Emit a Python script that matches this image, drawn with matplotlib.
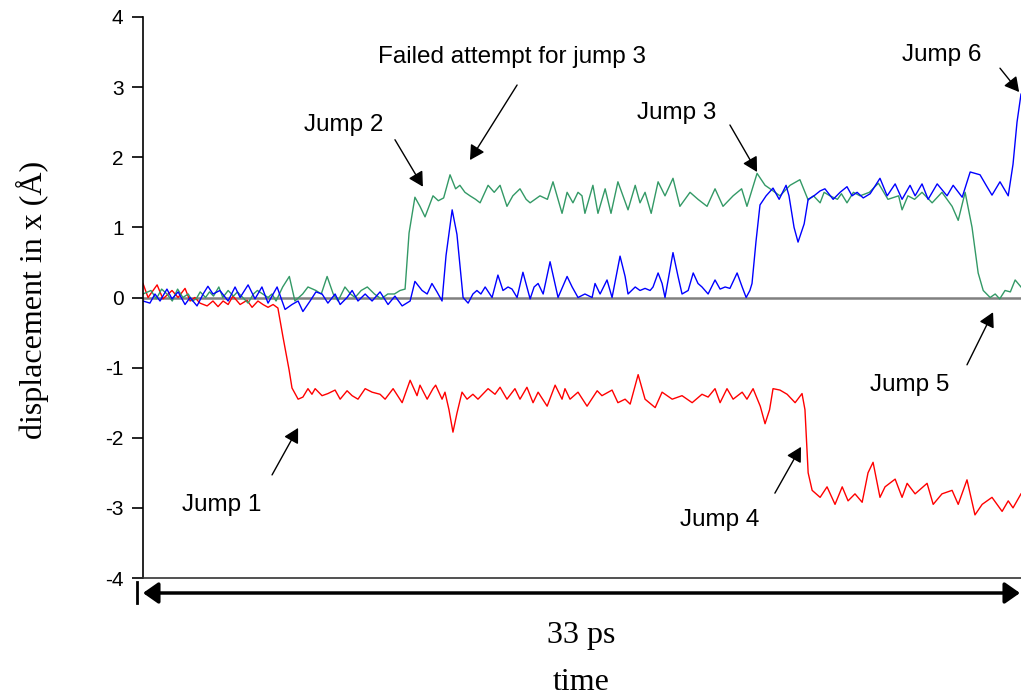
import matplotlib
matplotlib.use("Agg")
import matplotlib.pyplot as plt
import numpy as np

plt.rcParams["axes.unicode_minus"] = False

# x-displacement (Å) of the three tracked atoms against time (ps)
red_pts = [
    (0.0, 0.2), (0.19, 0.0), (0.53, 0.18), (0.75, -0.02), (1.09, 0.1), (1.32, 0.0),
    (1.58, 0.13), (1.77, -0.05), (1.95, 0.0), (2.14, -0.08), (2.41, -0.12), (2.63, -0.05),
    (2.82, -0.13), (3.01, -0.05), (3.20, -0.1), (3.38, 0.02), (3.65, -0.1), (3.91, -0.04),
    (4.10, -0.14), (4.32, -0.05), (4.51, -0.1), (4.70, -0.14), (4.89, -0.1), (5.07, -0.15),
    (5.26, -0.56), (5.49, -1.03), (5.60, -1.29), (5.83, -1.45), (6.01, -1.42), (6.20, -1.3),
    (6.35, -1.38), (6.47, -1.3), (6.73, -1.4), (6.95, -1.37), (7.22, -1.32), (7.41, -1.45),
    (7.67, -1.33), (7.86, -1.4), (8.08, -1.45), (8.35, -1.3), (8.61, -1.35), (8.91, -1.38),
    (9.10, -1.45), (9.40, -1.3), (9.74, -1.5), (10.04, -1.18), (10.30, -1.4), (10.41, -1.25),
    (10.68, -1.45), (10.90, -1.3), (11.0, -1.25), (11.24, -1.45), (11.35, -1.35), (11.5, -1.6),
    (11.65, -1.92), (11.8, -1.65), (11.99, -1.35), (12.18, -1.45), (12.40, -1.38), (12.59, -1.45),
    (12.97, -1.3), (13.23, -1.38), (13.42, -1.28), (13.68, -1.45), (13.98, -1.3), (14.17, -1.45),
    (14.43, -1.28), (14.66, -1.5), (14.85, -1.35), (15.19, -1.55), (15.49, -1.25), (15.75, -1.45),
    (15.86, -1.3), (16.05, -1.45), (16.35, -1.35), (16.69, -1.55), (17.07, -1.33), (17.25, -1.4),
    (17.63, -1.32), (17.85, -1.5), (18.12, -1.45), (18.31, -1.52), (18.61, -1.1), (18.87, -1.45),
    (19.25, -1.57), (19.51, -1.35), (19.89, -1.45), (20.26, -1.4), (20.64, -1.5), (21.01, -1.38),
    (21.24, -1.42), (21.50, -1.3), (21.69, -1.5), (21.95, -1.3), (22.18, -1.45), (22.52, -1.35),
    (22.70, -1.45), (22.93, -1.3), (23.2, -1.55), (23.38, -1.8), (23.55, -1.6), (23.68, -1.3),
    (23.94, -1.32), (24.21, -1.38), (24.51, -1.5), (24.77, -1.37), (24.88, -1.6), (25.0, -2.5),
    (25.15, -2.75), (25.45, -2.85), (25.71, -2.7), (26.01, -2.95), (26.28, -2.7), (26.50, -2.9),
    (26.76, -2.8), (27.03, -2.92), (27.25, -2.5), (27.44, -2.35), (27.70, -2.85), (27.89, -2.7),
    (28.27, -2.59), (28.53, -2.85), (28.72, -2.65), (29.02, -2.8), (29.47, -2.65), (29.70, -2.95),
    (30.03, -2.8), (30.41, -2.75), (30.64, -2.95), (30.97, -2.6), (31.27, -3.1), (31.54, -2.95),
    (31.91, -2.85), (32.29, -3.05), (32.52, -2.9), (32.70, -3.0), (33.0, -2.8),
]

blue_pts = [
    (0.0, -0.05), (0.26, -0.08), (0.45, 0.05), (0.64, -0.05), (0.9, 0.12), (1.09, -0.02),
    (1.32, 0.08), (1.58, -0.1), (1.77, 0.0), (2.03, -0.12), (2.26, 0.05), (2.44, 0.16),
    (2.63, 0.05), (2.89, 0.1), (3.20, -0.05), (3.46, 0.15), (3.65, 0.0), (3.95, 0.18),
    (4.21, -0.02), (4.47, 0.15), (4.70, -0.08), (5.04, 0.15), (5.34, -0.17), (5.60, -0.1),
    (5.83, -0.05), (6.01, -0.2), (6.28, -0.05), (6.50, 0.08), (6.73, 0.05), (6.95, -0.08),
    (7.22, 0.05), (7.41, -0.1), (7.67, 0.0), (7.86, 0.1), (8.08, -0.05), (8.35, 0.05),
    (8.61, -0.05), (8.91, 0.08), (9.21, -0.1), (9.47, 0.02), (9.74, -0.12), (10.04, -0.05),
    (10.22, 0.23), (10.49, 0.1), (10.68, 0.05), (10.86, 0.2), (11.05, 0.08), (11.24, -0.05),
    (11.39, 0.6), (11.62, 1.25), (11.8, 0.9), (12.03, 0.0), (12.22, -0.08), (12.40, 0.05),
    (12.55, 0.1), (12.7, 0.05), (12.86, 0.15), (13.12, 0.0), (13.34, 0.32), (13.53, 0.1),
    (13.72, 0.15), (13.87, 0.12), (14.06, 0.0), (14.28, 0.36), (14.55, -0.02), (14.70, 0.15),
    (14.85, 0.2), (15.04, 0.05), (15.30, 0.51), (15.60, 0.0), (15.94, 0.3), (16.13, 0.15),
    (16.35, 0.0), (16.61, 0.05), (16.88, 0.0), (16.99, 0.2), (17.18, 0.05), (17.44, 0.25),
    (17.63, 0.0), (17.93, 0.59), (18.12, 0.3), (18.23, 0.05), (18.5, 0.15), (18.68, 0.1),
    (18.87, 0.13), (19.06, 0.1), (19.17, 0.15), (19.36, 0.35), (19.51, 0.2), (19.62, 0.0),
    (19.92, 0.64), (20.11, 0.3), (20.26, 0.05), (20.49, 0.1), (20.68, 0.35), (20.86, 0.2),
    (21.01, 0.15), (21.24, 0.05), (21.5, 0.25), (21.69, 0.12), (21.88, 0.15), (22.06, 0.13),
    (22.33, 0.35), (22.52, 0.15), (22.67, 0.0), (22.81, 0.1), (22.89, 0.2), (23.04, 0.8),
    (23.19, 1.32), (23.42, 1.45), (23.68, 1.56), (23.91, 1.4), (24.17, 1.6), (24.28, 1.45),
    (24.47, 1.0), (24.62, 0.79), (24.85, 1.05), (25.0, 1.4), (25.22, 1.45), (25.45, 1.52),
    (25.63, 1.55), (25.94, 1.4), (26.2, 1.5), (26.46, 1.58), (26.65, 1.45), (26.84, 1.5),
    (27.07, 1.42), (27.33, 1.48), (27.70, 1.7), (27.97, 1.45), (28.27, 1.62), (28.53, 1.4),
    (28.83, 1.6), (29.02, 1.45), (29.28, 1.62), (29.51, 1.4), (29.85, 1.62), (30.22, 1.45),
    (30.45, 1.6), (30.79, 1.43), (31.09, 1.79), (31.46, 1.75), (31.69, 1.6), (31.91, 1.46),
    (32.21, 1.65), (32.52, 1.45), (32.70, 1.9), (32.85, 2.5), (33.0, 2.9),
]

green_pts = [
    (0.0, 0.05), (0.3, 0.1), (0.5, -0.02), (0.7, 0.12), (0.9, 0.05), (1.1, -0.05),
    (1.3, 0.12), (1.5, 0.0), (1.7, 0.05), (1.85, -0.05), (2.0, -0.02), (2.15, 0.08),
    (2.35, 0.0), (2.5, 0.08), (2.65, 0.02), (2.85, 0.15), (3.0, 0.0), (3.2, 0.1),
    (3.4, 0.02), (3.55, 0.08), (3.75, 0.0), (3.95, -0.08), (4.15, 0.05), (4.3, 0.1),
    (4.5, 0.05), (4.7, 0.0), (4.85, 0.05), (5.0, -0.05), (5.25, 0.15), (5.5, 0.3),
    (5.71, -0.05), (6.0, 0.05), (6.2, 0.15), (6.5, 0.1), (6.7, 0.05), (6.92, 0.3),
    (7.15, 0.05), (7.33, -0.05), (7.59, 0.15), (7.8, 0.05), (7.97, 0.0), (8.2, 0.1),
    (8.43, 0.15), (8.7, 0.05), (8.95, -0.02), (9.2, 0.05), (9.45, 0.05), (9.66, 0.1),
    (9.85, 0.12), (10.0, 0.92), (10.22, 1.43), (10.41, 1.3), (10.6, 1.15), (10.9, 1.45),
    (11.1, 1.38), (11.3, 1.42), (11.54, 1.75), (11.75, 1.55), (11.91, 1.6), (12.1, 1.5),
    (12.29, 1.45), (12.5, 1.4), (12.67, 1.35), (12.97, 1.6), (13.2, 1.5), (13.42, 1.6),
    (13.68, 1.3), (13.9, 1.45), (14.17, 1.55), (14.4, 1.4), (14.55, 1.35), (14.92, 1.45),
    (15.2, 1.4), (15.41, 1.65), (15.75, 1.2), (15.94, 1.5), (16.16, 1.35), (16.35, 1.5),
    (16.5, 1.45), (16.61, 1.2), (16.91, 1.6), (17.1, 1.2), (17.37, 1.55), (17.59, 1.2),
    (17.85, 1.65), (18.23, 1.25), (18.5, 1.6), (18.68, 1.35), (18.87, 1.5), (19.1, 1.2),
    (19.36, 1.65), (19.62, 1.45), (19.92, 1.7), (20.18, 1.3), (20.56, 1.5), (20.86, 1.4),
    (21.2, 1.3), (21.5, 1.55), (21.8, 1.3), (22.18, 1.45), (22.5, 1.55), (22.7, 1.3),
    (23.08, 1.77), (23.38, 1.6), (23.57, 1.55), (23.94, 1.45), (24.32, 1.6), (24.69, 1.68),
    (25.0, 1.39), (25.2, 1.45), (25.45, 1.35), (25.6, 1.5), (25.82, 1.45), (26.1, 1.4),
    (26.25, 1.48), (26.46, 1.35), (26.7, 1.5), (26.95, 1.45), (27.3, 1.5), (27.64, 1.63),
    (28.0, 1.4), (28.4, 1.45), (28.53, 1.25), (28.75, 1.45), (29.0, 1.4), (29.28, 1.5),
    (29.66, 1.35), (30.03, 1.5), (30.41, 1.3), (30.64, 1.1), (30.9, 1.5), (31.16, 1.0),
    (31.39, 0.35), (31.58, 0.1), (31.84, 0.0), (32.03, 0.05), (32.2, -0.02), (32.4, 0.1),
    (32.6, 0.08), (32.78, 0.25), (33.0, 0.15),
]

# (label, text position, arrow tail, arrow tip) in data units
notes = [
    ("Failed attempt for jump 3", (13.87, 3.43), (14.06, 3.03), (12.29, 1.96)),
    ("Jump 2", (7.55, 2.46), (9.47, 2.25), (10.52, 1.58)),
    ("Jump 3", (20.07, 2.63), (22.06, 2.46), (23.08, 1.79)),
    ("Jump 6", (30.03, 3.46), (32.21, 3.27), (32.93, 2.93)),
    ("Jump 5", (28.83, -1.25), (30.97, -0.96), (31.95, -0.21)),
    ("Jump 1", (2.97, -2.96), (4.85, -2.53), (5.83, -1.86)),
    ("Jump 4", (21.69, -3.17), (23.75, -2.79), (24.73, -2.13)),
]

SANS = "Liberation Sans"
SERIF = "Liberation Serif"

fig = plt.figure(figsize=(10.21, 7), dpi=100)
ax = fig.add_axes([143 / 1021, 1 - 578 / 700, 878 / 1021, 561 / 700])

ax.axhline(0, color="#808080", lw=1.8, zorder=1)
for pts, col in [(red_pts, "#ff0000"), (green_pts, "#339966"), (blue_pts, "#0000ff")]:
    arr = np.array(pts)
    ax.plot(arr[:, 0], arr[:, 1], color=col, lw=1.0, zorder=2)

ax.set_xlim(0, 33)
ax.set_ylim(-4, 4)
ax.set_yticks(range(-4, 5))
ax.set_xticks([])
for side in ("top", "right"):
    ax.spines[side].set_visible(False)
ax.spines["left"].set_linewidth(1.2)
ax.spines["bottom"].set_linewidth(1.2)
ax.spines["bottom"].set_color("#333333")
ax.tick_params(axis="y", direction="out", length=8, width=1.2, pad=6, labelsize=15)
for lbl in ax.get_yticklabels():
    lbl.set_fontfamily(SANS)

for text, tpos, tail, tip in notes:
    ax.annotate("", xy=tip, xytext=tail,
                arrowprops=dict(arrowstyle="-|>,head_length=0.4,head_width=0.22",
                                color="black", lw=1.0, mutation_scale=22,
                                shrinkA=0, shrinkB=0))
    ax.text(tpos[0], tpos[1], text, ha="center", va="center",
            fontsize=17.5, family=SANS)

# double-headed span arrow under the axis
y_arr = 1 - 593 / 700
fig.add_artist(matplotlib.patches.FancyArrowPatch(
    (143 / 1021, y_arr), (1020 / 1021, y_arr), transform=fig.transFigure,
    arrowstyle="<|-|>,head_length=0.4,head_width=0.28", mutation_scale=23,
    lw=2.5, color="black", shrinkA=0, shrinkB=0))
fig.add_artist(plt.Line2D([137 / 1021, 137 / 1021], [1 - 582 / 700, 1 - 603 / 700],
                          transform=fig.transFigure, color="black", lw=2))

fig.text(581 / 1021, 1 - 636 / 700, "33 ps", ha="center", va="center",
         fontsize=23, family=SERIF)
fig.text(581 / 1021, 1 - 683 / 700, "time", ha="center", va="center",
         fontsize=23, family=SERIF)
fig.text(32 / 1021, 1 - 300 / 700, "displacement in x (Å)", ha="center", va="center",
         rotation=90, fontsize=23, family=SERIF)

fig.savefig("out.png", dpi=100)
